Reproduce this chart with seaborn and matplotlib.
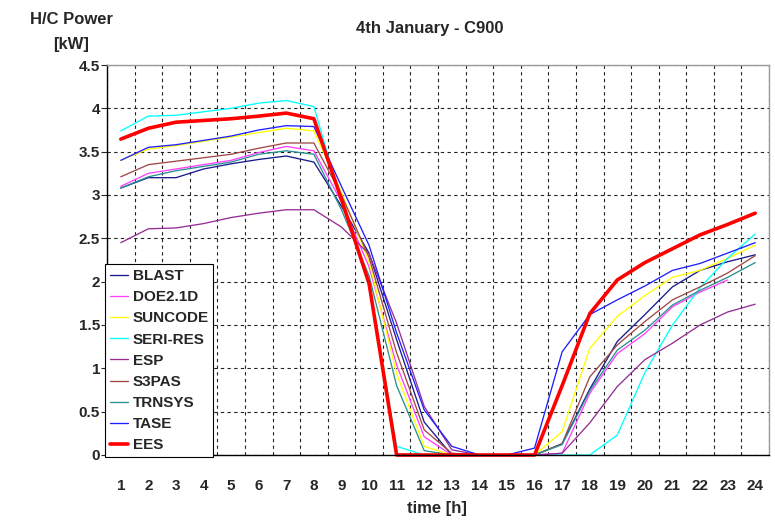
import matplotlib
matplotlib.use("Agg")
import matplotlib.pyplot as plt
import numpy as np
import pandas as pd
import seaborn as sns

hours = list(range(1, 25))

blast = [3.08, 3.20, 3.20, 3.30, 3.36, 3.41, 3.45, 3.38, 2.87, 2.33, 1.33, 0.38,
         0, 0, 0, 0, 0.13, 0.76, 1.31, 1.62, 1.94, 2.13, 2.23, 2.31]
doe = [3.10, 3.25, 3.30, 3.35, 3.40, 3.49, 3.56, 3.51, 2.92, 2.17, 1.04, 0.21,
       0, 0, 0, 0, 0.02, 0.71, 1.17, 1.40, 1.71, 1.88, 2.02, np.nan]
suncode = [3.40, 3.53, 3.57, 3.62, 3.67, 3.72, 3.77, 3.74, 3.03, 2.23, 0.94, 0.10,
           0, 0, 0, 0, 0.27, 1.23, 1.60, 1.84, 2.05, 2.13, 2.27, 2.42]
seri_res = [3.74, 3.91, 3.92, 3.96, 4.00, 4.06, 4.09, 4.02, 2.92, 1.94, 0.10, 0,
            0, 0, 0, 0, 0, 0, 0.23, 0.95, 1.50, 1.93, 2.27, 2.55]
esp = [2.45, 2.61, 2.62, 2.67, 2.74, 2.79, 2.83, 2.83, 2.63, 2.32, 1.52, 0.56,
       0.06, 0, 0, 0, 0.02, 0.37, 0.79, 1.10, 1.29, 1.50, 1.65, 1.74]
s3pas = [3.21, 3.35, 3.39, 3.43, 3.47, 3.54, 3.60, 3.60, 3.00, 2.28, 1.18, 0.29,
         0.02, 0, 0, 0, 0.13, 0.90, 1.27, 1.54, 1.79, 1.94, 2.10, 2.30]
trnsys = [3.08, 3.21, 3.28, 3.33, 3.38, 3.47, 3.51, 3.47, 2.83, 2.07, 0.80, 0.05,
          0, 0, 0, 0, 0.12, 0.74, 1.21, 1.44, 1.73, 1.90, 2.05, 2.22]
tase = [3.40, 3.55, 3.58, 3.63, 3.68, 3.75, 3.80, 3.79, 3.10, 2.42, 1.41, 0.52,
        0.10, 0, 0, 0.08, 1.19, 1.62, 1.79, 1.95, 2.13, 2.21, 2.33, 2.45]
ees = [3.645, 3.77, 3.84, 3.86, 3.88, 3.91, 3.945, 3.88, 2.95, 1.98, 0, 0,
       0, 0, 0, 0, 0.80, 1.63, 2.02, 2.22, 2.38, 2.54, 2.66, 2.79]

series = {'BLAST': blast, 'DOE2.1D': doe, 'SUNCODE': suncode, 'SERI-RES': seri_res,
          'ESP': esp, 'S3PAS': s3pas, 'TRNSYS': trnsys, 'TASE': tase, 'EES': ees}
colors = {'BLAST': '#1a1a8c', 'DOE2.1D': '#ff40ff', 'SUNCODE': '#ffff00',
          'SERI-RES': '#00ffff', 'ESP': '#952f95', 'S3PAS': '#a04848',
          'TRNSYS': '#2a9090', 'TASE': '#2020ff', 'EES': '#ff0000'}

sns.set_style("white")
plt.rcParams['font.family'] = ['Liberation Sans', 'DejaVu Sans']
plt.rcParams['font.weight'] = 'bold'

fig = plt.figure(figsize=(7.75, 5.21), dpi=100)
ax = fig.add_axes([107 / 775, 1 - 455 / 521, 662 / 775, 390 / 521])

for name, vals in series.items():
    df = pd.DataFrame({'hour': hours, 'power': vals})
    lw = 2.6 if name == 'EES' else 0.95
    sns.lineplot(data=df, x='hour', y='power', ax=ax, color=colors[name], lw=lw,
                 label=name, errorbar=None, clip_on=False)

ax.set_xlim(0.5, 24.5)
ax.set_ylim(0, 4.5)
ax.set_xticks(hours)
ax.set_xticklabels([str(h) for h in hours], fontsize=11, fontweight='bold')
ax.set_xticks(np.arange(0.5, 25, 1), minor=True)
yt = np.arange(0, 4.51, 0.5)
ax.set_yticks(yt)
ax.set_yticklabels(['{:g}'.format(v) for v in yt], fontsize=11, fontweight='bold')
ax.tick_params(axis='x', which='major', length=0, pad=17)
ax.tick_params(axis='x', which='minor', length=5, direction='out', width=0.8)
ax.tick_params(axis='y', length=4, direction='out', width=0.8, pad=1, left=True)
ax.grid(True, which='minor', axis='x', linestyle=(0, (3, 3)), color='#222222', lw=0.8)
ax.grid(True, which='major', axis='y', linestyle=(0, (3, 3)), color='#222222', lw=0.8)
ax.grid(False, which='major', axis='x')
ax.set_xlabel('')
ax.set_ylabel('')
for s in ['left', 'bottom']:
    ax.spines[s].set_color('black')
    ax.spines[s].set_linewidth(1.0)
for s in ['top', 'right']:
    ax.spines[s].set_color('#9a9a9a')
    ax.spines[s].set_linewidth(1.0)

fig.text(430 / 775, 1 - 28 / 521, '4th January - C900', ha='center', va='center',
         fontsize=12, fontweight='bold')
fig.text(71 / 775, 1 - 32 / 521, 'H/C Power\n[kW]', ha='center', va='center',
         fontsize=12, fontweight='bold', linespacing=1.9)
fig.text(437 / 775, 1 - 508 / 521, 'time [h]', ha='center', va='center',
         fontsize=12, fontweight='bold')

leg = ax.legend(loc='lower left', bbox_to_anchor=(105 / 775, 1 - 457 / 521),
                bbox_transform=fig.transFigure, borderaxespad=0, fancybox=False,
                framealpha=1, edgecolor='black', prop={'size': 11, 'weight': 'bold'},
                handlelength=1.2, handletextpad=0.3, labelspacing=0.47, borderpad=0.3)
leg.get_frame().set_linewidth(0.8)

fig.savefig('out.png', dpi=100)
